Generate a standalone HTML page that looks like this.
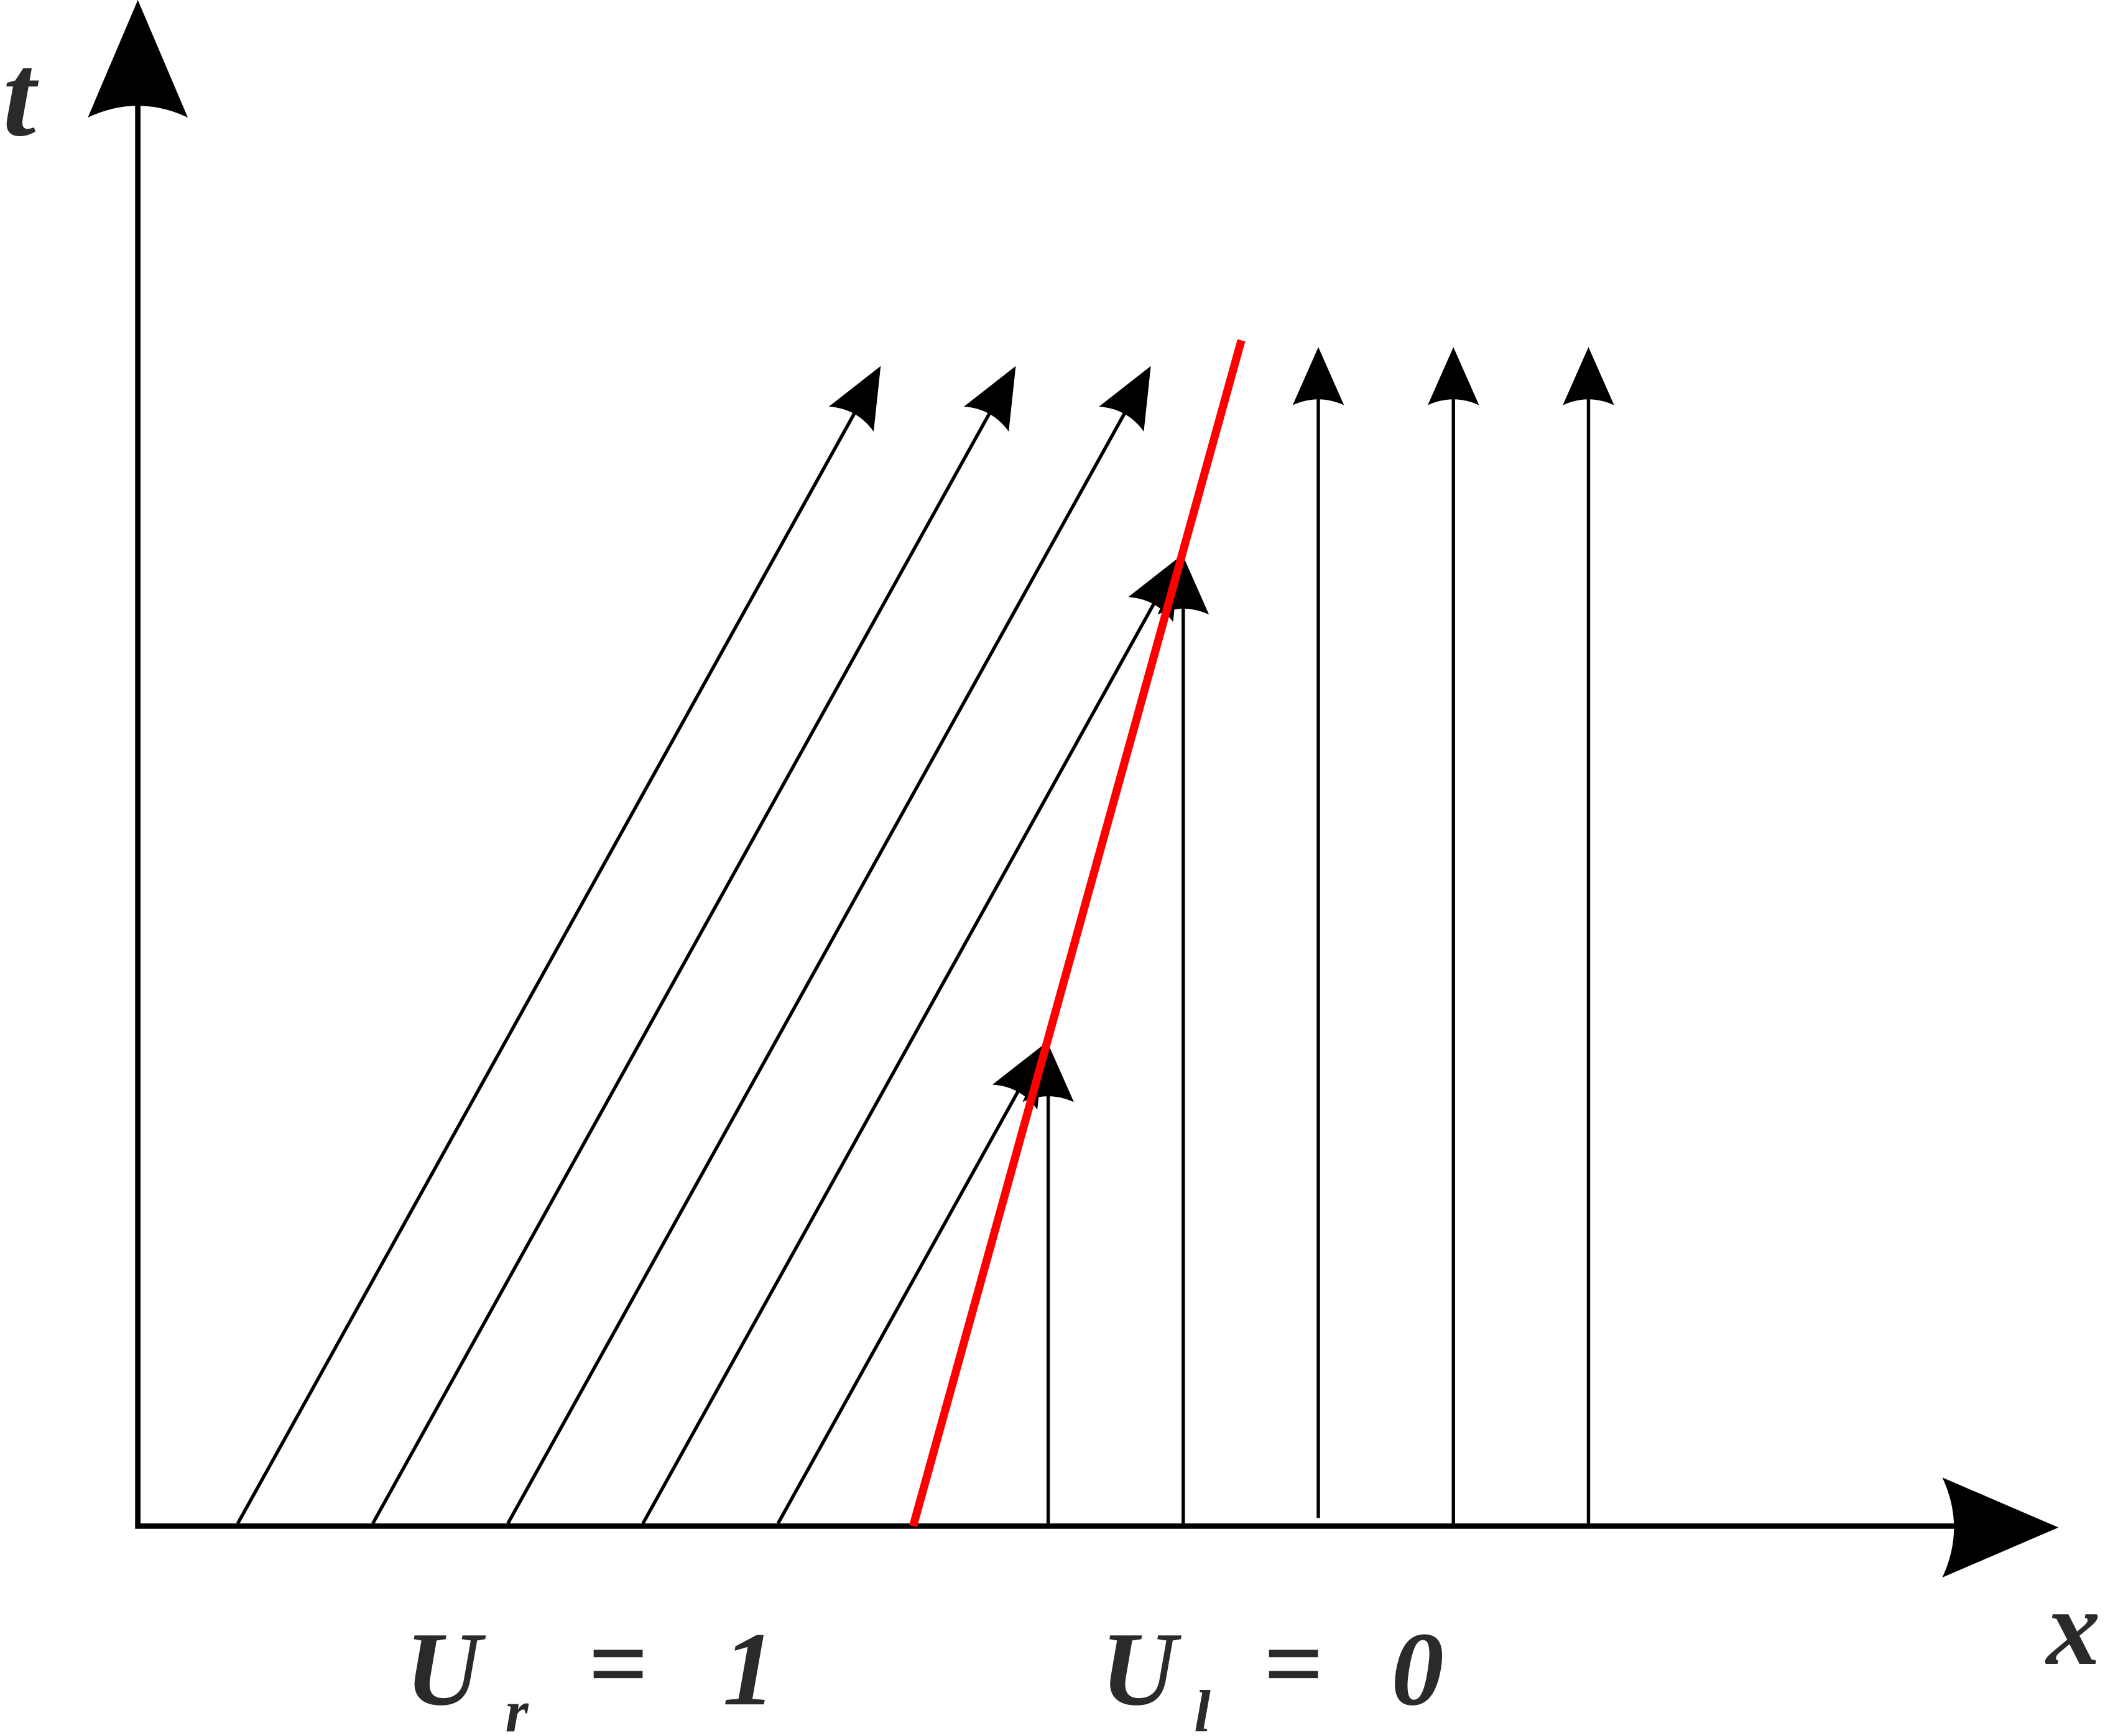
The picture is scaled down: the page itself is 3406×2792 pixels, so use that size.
<!DOCTYPE html>
<html><head><meta charset="utf-8">
<style>
html,body{margin:0;padding:0;background:#fff;}
svg{display:block;}
text{font-family:"Liberation Serif",serif;font-style:italic;font-weight:bold;fill:#2a2a2a;}
</style></head>
<body>
<svg id="chart" width="3406" height="2792" viewBox="0 0 1568 1285.4" xmlns="http://www.w3.org/2000/svg">
<g id="marks"></g>
<text x="2" y="100" font-size="88">t</text>
<text x="1515" y="1232" font-size="80">x</text>
<g>
<text x="300" y="1262" font-size="78">U</text><text x="374" y="1282" font-size="44">r</text>
<text x="435" y="1258" font-size="78">=</text><text x="535" y="1262" font-size="78">1</text>
</g>
<g>
<text x="815" y="1262" font-size="78">U</text><text x="884" y="1282" font-size="44">l</text>
<text x="935" y="1258" font-size="78">=</text><text x="1030" y="1262" font-size="78">0</text>
</g>
</svg>
<script>
const slantStarts=[176,276,376,476,576];
const slantEndT=[271,271,271,412,773];
const slope=476/857;
const vertStarts=[776,876,976,1076,1176];
const vertEndT=[773,412,257,257,257];
const shockStart=[676,1130];
const shockEnd=[919,252];
const baseY=1128;
const NS='http://www.w3.org/2000/svg';
const g=document.getElementById('marks');
function mk(tag,attrs){const e=document.createElementNS(NS,tag);for(const k in attrs)e.setAttribute(k,attrs[k]);g.appendChild(e);return e;}
function arrow(tx,ty,ang,L,W){
  // ang: direction of travel (radians), tip at (tx,ty)
  const c=Math.cos(ang),s=Math.sin(ang);
  const bx=tx-L*c,by=ty-L*s;
  const px=-s,py=c;
  const lx=bx+W*px,ly=by+W*py,rx=bx-W*px,ry=by-W*py;
  const mx=tx-(L*0.8)*c,my=ty-(L*0.8)*s;
  const qx=bx+0*c,qy=by;
  return `M${tx},${ty} L${lx},${ly} Q${mx},${my} ${rx},${ry} Z`;
}
// axes
let e=mk('line',{x1:102,y1:1130,x2:102,y2:60,stroke:'#000','stroke-width':4});


e=mk('path',{d:arrow(102,0,-Math.PI/2,87,37),fill:'#000'});


e=mk('line',{x1:100,y1:1130,x2:1460,y2:1130,stroke:'#000','stroke-width':4});


e=mk('path',{d:arrow(1524,1131,0,86,37),fill:'#000'});


// slanted characteristics
slantStarts.forEach((x0,i)=>{
  const ty=slantEndT[i];const tx=x0+(baseY-ty)*slope;
  const ang=Math.atan2(ty-baseY,tx-x0);
  const ex=tx-30*Math.cos(ang),ey=ty-30*Math.sin(ang);
  let l=mk('line',{x1:x0,y1:baseY,x2:ex,y2:ey,stroke:'#000','stroke-width':2.5});
  
  
  let a=mk('path',{d:arrow(tx,ty,ang,45,19),fill:'#000'});
  
  
});
// vertical characteristics
vertStarts.forEach((x0,i)=>{
  const ty=vertEndT[i];
  let l=mk('line',{x1:x0,y1:(i==2?1124:baseY),x2:x0,y2:ty+35,stroke:'#000','stroke-width':2.5});
  
  
  let a=mk('path',{d:arrow(x0,ty,-Math.PI/2,43,19),fill:'#000'});
  
  
});
// shock
e=mk('line',{x1:shockStart[0],y1:shockStart[1],x2:shockEnd[0],y2:shockEnd[1],stroke:'#ff0000','stroke-width':6});


</script>
</body></html>
